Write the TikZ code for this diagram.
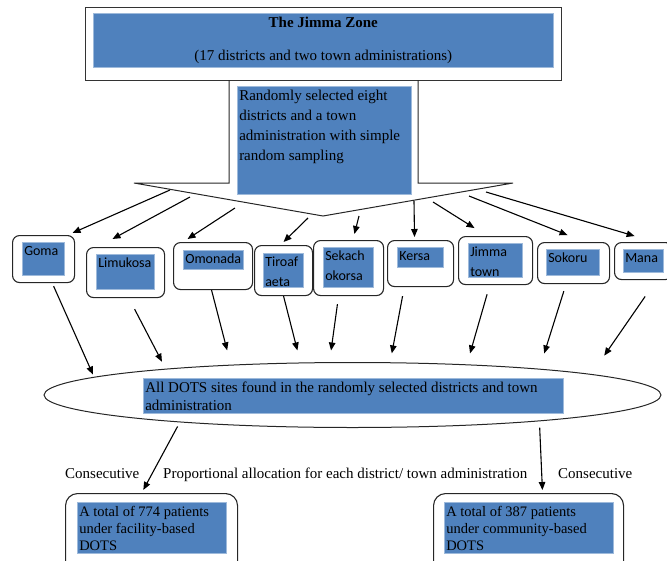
\documentclass[tikz,border=0pt]{standalone}
\usepackage{fontspec}
\setmainfont{Liberation Serif}
\newfontfamily\calibri{Carlito}
\usetikzlibrary{shapes.geometric,arrows.meta}
\definecolor{jblue}{RGB}{79,129,189}
% text sitting at the top left of a blue box of #1 x #2
\newcommand{\boxtext}[3]{\parbox[t][\dimexpr#2pt-8pt\relax][t]{\dimexpr#1pt-4pt\relax}{\raggedright #3}}

\begin{document}
\begin{tikzpicture}[x=1pt, y=-1pt,
    fillbox/.style={fill=jblue, draw=jblue!55!white, line width=0.5pt,
      inner xsep=2pt, inner ysep=4pt, anchor=north west},
    distbox/.style={draw=black!85, line width=1.1pt, rounded corners=7pt,
      anchor=north west},
    serif/.style={font=\fontsize{15}{20}\selectfont},
    sans/.style={font=\fontsize{14}{20}\selectfont\calibri},
    arr/.style={-{Triangle[length=8pt,width=6.5pt]}, line width=1.1pt}]
  \useasboundingbox (0,0) rectangle (667,560);

  % the zone
  \node[draw=black!80, line width=1.1pt, minimum width=476pt,
    minimum height=73pt, anchor=north west] (zone) at (85,7) {};
  \node[fillbox, inner sep=0pt, minimum width=460pt, minimum height=54pt,
    align=center, serif] (zone-txt) at (93,13)
    {\textbf{The Jimma Zone}\\[13pt](17 districts and two town administrations)};

  % callout
  \coordinate (vl) at (134,183);
  \coordinate (tip) at (323,216);
  \coordinate (vr) at (513,183);
  \draw[line width=1pt, black!85] (229,80) -- (229,183) -- (vl) -- (tip)
    -- (vr) -- (418,183) -- (418,80);
  \node[fillbox, serif] (sample) at (237,86) {\boxtext{174}{108}{Randomly
    selected eight\\districts and a town\\administration with simple\\random sampling}};

  % districts
  \foreach \d/\x/\y/\w/\h in {goma/12/235/62/47, limukosa/86/247/78/50,
      omonada/173/242/79/47, tiroaf/254/245/58/50, sekach/313/240/70/55,
      kersa/387/240/66/46, jimma/458/236/74/48, sokoru/537/242/72/41,
      mana/614/242/58/37}
    \node[distbox, minimum width=\w pt, minimum height=\h pt] (\d) at (\x,\y) {};
  \foreach \d/\x/\y/\w/\h/\t in {goma/22/242/42/33/Goma,
      limukosa/96/254/58/35/Limukosa, omonada/183/250/60/19/Omonada,
      tiroaf/263/253/40/34/{Tiroaf\\aeta}, sekach/323/247/50/40/{Sekach\\okorsa},
      kersa/397/247/46/20/Kersa, jimma/468/243/54/34/{Jimma\\town},
      sokoru/546/249/53/26/Sokoru, mana/623/249/40/23/Mana}
    \node[fillbox, sans] (\d-txt) at (\x,\y) {\boxtext{\w}{\h}{\t}};

  % all DOTS sites
  \node[ellipse, draw=black!85, line width=1pt, inner sep=0pt,
    minimum width=617pt, minimum height=65pt] (sites) at (352.5,395) {};
  \node[fillbox, font=\fontsize{15}{18}\selectfont] (sites-txt) at (143,378)
    {\boxtext{420}{35}{All DOTS sites found in the randomly selected districts and town\\administration}};

  % patients
  \node[distbox, rounded corners=12pt, minimum width=172pt, minimum height=80pt]
    (facility) at (65,493) {};
  \node[distbox, rounded corners=12pt, minimum width=190pt, minimum height=80pt]
    (community) at (433,493) {};
  \node[fillbox, font=\fontsize{14.5}{17}\selectfont] (facility-txt) at (77,502)
    {\boxtext{149}{51}{A total of 774 patients\\under facility-based\\DOTS}};
  \node[fillbox, font=\fontsize{14.5}{17}\selectfont] (community-txt) at (444,502)
    {\boxtext{169}{51}{A total of 387 patients\\under community-based\\DOTS}};

  \node[serif, anchor=base west, inner sep=0pt] (consec-l) at (65,478) {Consecutive};
  \node[serif, anchor=base west, inner sep=0pt] (alloc) at (163,478)
    {Proportional allocation for each district/ town administration};
  \node[serif, anchor=base west, inner sep=0pt] (consec-r) at (558,478) {Consecutive};

  % arrows from the callout to the districts
  \foreach \d/\x/\y/\dx/\s in {goma/170/190/24.4/5, limukosa/190/197/-27.9/16.9,
      omonada/235/208/-30.1/5.5, tiroaf/308/218/-3.1/4.3, sekach/359/216/4.3/6.2,
      kersa/414/201/-6/3, jimma/433/202/-8.4/14.9, sokoru/469/196/11.6/18.9,
      mana/486/192/11.2/21}
  {
    \coordinate (\d-in) at (\x,\y);
    \draw[arr, shorten >=\s pt] (\d-in) -- ([xshift=\dx pt]\d.north);
  }

  % arrows from the districts to the sites
  \foreach \d/\dx/\a/\s/\e in {goma/8.7/176.1/3.3/2.6, limukosa/3.3/172.1/12.4/7.9,
      omonada/-1.5/166.7/0/14.8, tiroaf/0/148/0/12.4, sekach/-10/125.4/8.1/11.7,
      kersa/-16.3/41.2/9.2/9, jimma/-5.8/15.8/9.6/11.4, sokoru/-7.5/8.2/7.4/16,
      mana/12.9/5.3/19.9/22.4}
    \draw[arr, shorten <=\s pt, shorten >=\e pt] ([xshift=\dx pt]\d.south) -- (sites.\a);

  \draw[arr, shorten <=4.7pt, shorten >=3.5pt] (sites.189.3) -- ([xshift=-9.9pt]facility.north);
  \draw[arr, shorten <=6.4pt, shorten >=3pt] (sites.352.3) -- ([xshift=14pt]community.north);
\end{tikzpicture}
\end{document}
